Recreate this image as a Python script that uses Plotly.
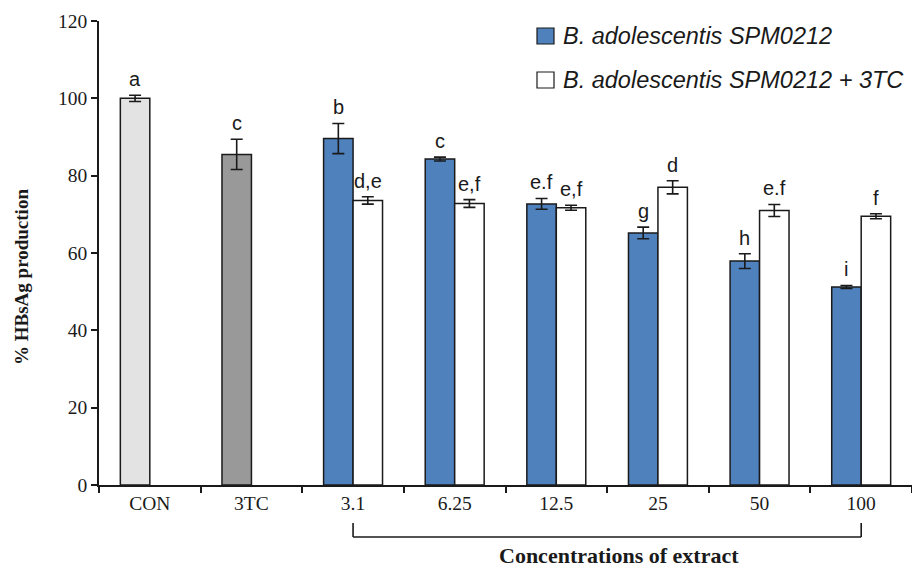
import plotly.graph_objects as go

# Categories and measured HBsAg production (%)
categories = ["CON", "3TC", "3.1", "6.25", "12.5", "25", "50", "100"]
extract_vals = [100.0, 85.5, 89.6, 84.3, 72.7, 65.2, 57.9, 51.2]
extract_err = [0.8, 3.9, 3.9, 0.5, 1.4, 1.5, 1.9, 0.4]
extract_letters = ["a", "c", "b", "c", "e.f", "g", "h", "i"]
combo_vals = [None, None, 73.6, 72.8, 71.7, 77.0, 71.0, 69.5]
combo_err = [0, 0, 0.95, 1.0, 0.65, 1.7, 1.55, 0.65]
combo_letters = ["", "", "d,e", "e,f", "e,f", "d", "e.f", "f"]

BLUE = "#4f81bd"
bar_colors = ["#e3e3e3", "#999999"] + [BLUE] * 6

W, H = 912, 569
L, R, T, B = 99, 0, 21, 84
BARGAP = 0.42
half = (1 - BARGAP) / 4  # offset of each bar centre from category centre

fig = go.Figure()
fig.add_trace(go.Bar(
    x=categories, y=extract_vals, name="B. adolescentis SPM0212",
    marker=dict(color=bar_colors, line=dict(color="#1a1a1a", width=1.5)),
    error_y=dict(type="data", array=extract_err, color="#1a1a1a", thickness=1.6, width=6),
))
fig.add_trace(go.Bar(
    x=categories, y=combo_vals, name="B. adolescentis SPM0212 + 3TC",
    marker=dict(color="white", line=dict(color="#1a1a1a", width=1.5)),
    error_y=dict(type="data", array=combo_err, color="#1a1a1a", thickness=1.6, width=6),
))

# significance letters above error bars
label_font = dict(family="Liberation Sans, Arial", size=20, color="#1a1a1a")
for i, (v, e, t) in enumerate(zip(extract_vals, extract_err, extract_letters)):
    fig.add_annotation(x=i - half, y=v + e, text=t, showarrow=False,
                       yanchor="bottom", yshift=3, font=label_font)
for i, (v, e, t) in enumerate(zip(combo_vals, combo_err, combo_letters)):
    if v is None:
        continue
    fig.add_annotation(x=i + half, y=v + e, text=t, showarrow=False,
                       yanchor="bottom", yshift=3, font=label_font)

plot_h = H - T - B
def py(pix):
    # convert pixel row to paper y
    return (H - B - pix) / plot_h

plot_w = W - L - R
def px(pix):
    return (pix - L) / plot_w

serif = "Liberation Serif, Times New Roman"

# bracket spanning the extract concentrations
start, end = categories.index("3.1"), categories.index("100")
line = dict(color="#1a1a1a", width=1.6)
fig.add_shape(type="line", xref="x", yref="paper", x0=start, x1=end, y0=py(537), y1=py(537), line=line)
fig.add_shape(type="line", xref="x", yref="paper", x0=start, x1=start, y0=py(523), y1=py(537), line=line)
fig.add_shape(type="line", xref="x", yref="paper", x0=end, x1=end, y0=py(523), y1=py(537), line=line)
fig.add_annotation(xref="paper", yref="paper", x=px(619), y=py(555), text="<b>Concentrations of extract</b>",
                   xanchor="center", yanchor="middle", showarrow=False,
                   font=dict(family=serif, size=22, color="#1a1a1a"))

# y axis title
fig.add_annotation(xref="paper", yref="paper", x=px(21), y=py(277), text="<b>% HBsAg production</b>",
                   xanchor="center", yanchor="middle", textangle=-90, showarrow=False,
                   font=dict(family=serif, size=19, color="#1a1a1a"))

# legend
legend_font = dict(family="Liberation Sans, Arial", size=23.5, color="#1a1a1a")
for name, fill, cy in [(fig.data[0].name, BLUE, 36), (fig.data[1].name, "white", 80)]:
    fig.add_shape(type="rect", xref="paper", yref="paper", x0=px(537), x1=px(554),
                  y0=py(cy - 8), y1=py(cy + 8), fillcolor=fill, line=dict(color="#1a1a1a", width=1.2))
    fig.add_annotation(xref="paper", yref="paper", x=px(561), y=py(cy), text=f"<i>{name}</i>",
                       xanchor="left", yanchor="middle", showarrow=False, font=legend_font)

tick_font = dict(family=serif, size=19.5, color="#1a1a1a")
fig.update_layout(
    width=W, height=H, autosize=False,
    margin=dict(l=L, r=R, t=T, b=B),
    paper_bgcolor="white", plot_bgcolor="white",
    barmode="group", bargap=BARGAP, bargroupgap=0,
    showlegend=False,
    xaxis=dict(type="category", range=[-0.5, 7.5], showline=True, linecolor="#1a1a1a", linewidth=1.6,
               ticks="outside", tickson="boundaries", ticklen=6, tickcolor="#1a1a1a", tickwidth=1.6,
               tickfont=tick_font, showgrid=False, zeroline=False),
    yaxis=dict(range=[0, 120], dtick=20, showline=True, linecolor="#1a1a1a", linewidth=1.6,
               ticks="outside", ticklen=6, tickcolor="#1a1a1a", tickwidth=1.6,
               tickfont=tick_font, showgrid=False, zeroline=False),
)

fig.write_html("out.html")
